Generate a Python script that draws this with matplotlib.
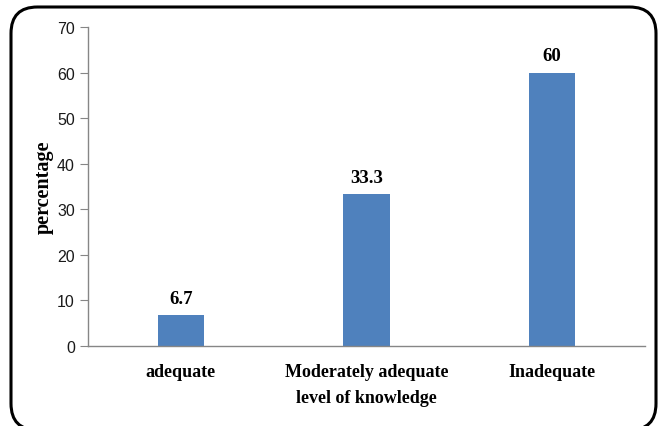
import matplotlib
matplotlib.use("Agg")
import matplotlib.pyplot as plt
from matplotlib.patches import FancyBboxPatch

categories = ["adequate", "Moderately adequate", "Inadequate"]
values = [6.7, 33.3, 60]
value_labels = ["6.7", "33.3", "60"]
yticks = [0, 10, 20, 30, 40, 50, 60, 70]

W, H = 661, 427
fig = plt.figure(figsize=(W/100, H/100), dpi=100)
ax = fig.add_axes([88/W, (H-347)/H, (645-88)/W, (347-28)/H])

x = list(range(len(categories)))
ax.bar(x, values, width=0.25, color="#4F81BD", zorder=2)
ax.set_xlim(-0.5, 2.5)
ax.set_ylim(0, 70)
ax.set_yticks(yticks)
ax.set_yticklabels([str(t) for t in yticks], fontsize=11.5, family="Liberation Sans", color="#1a1a1a")
ax.set_xticks(x)
ax.set_xticklabels(categories, fontsize=13, family="Liberation Serif", fontweight="bold")
ax.tick_params(axis="x", length=0, pad=12)
ax.tick_params(axis="y", length=5.5, color="#868686", pad=4)
for s in ["top", "right"]:
    ax.spines[s].set_visible(False)
for s in ["left", "bottom"]:
    ax.spines[s].set_color("#868686")
    ax.spines[s].set_linewidth(1)

for xi, v, lab in zip(x, values, value_labels):
    ax.annotate(lab, (xi, v), xytext=(0, 6), textcoords="offset points",
                ha="center", va="bottom", fontsize=13.5, family="Liberation Serif",
                fontweight="bold")

ax.set_ylabel("percentage", fontsize=14.5, family="Liberation Serif", fontweight="bold", labelpad=2)
ax.set_xlabel("level of knowledge", fontsize=13, family="Liberation Serif", fontweight="bold", labelpad=7)

box = FancyBboxPatch((11/W, (H-431)/H), (656-11)/W, (431-8)/H,
                     boxstyle="round,pad=0,rounding_size=0.04",
                     transform=fig.transFigure, fill=False, edgecolor="black",
                     linewidth=2.2, mutation_aspect=W/H)
fig.patches.append(box)

fig.savefig("out.png", dpi=100)
